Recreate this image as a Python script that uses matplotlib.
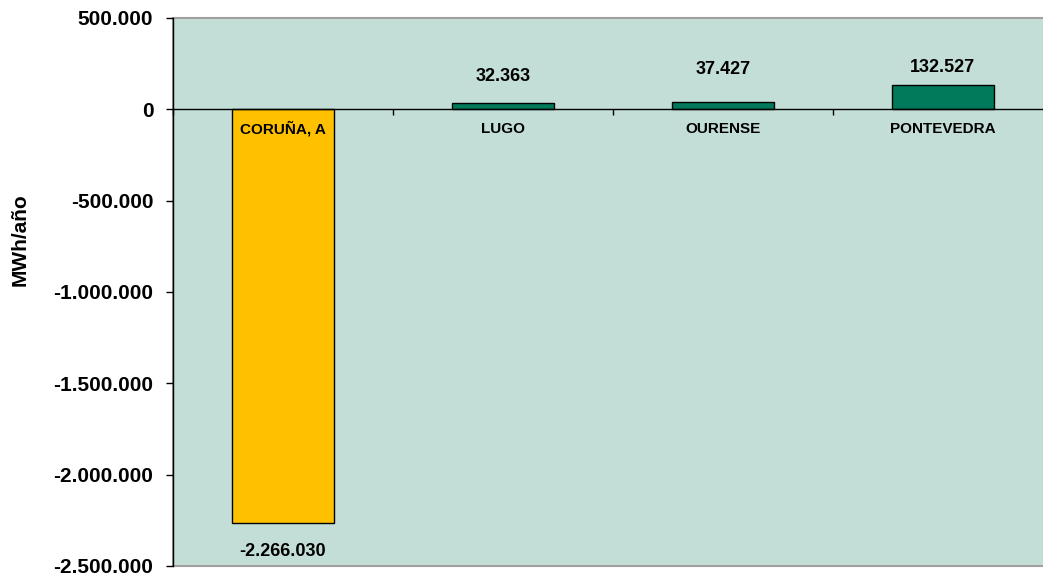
import numpy as np
import matplotlib.pyplot as plt
from matplotlib.patches import Rectangle
from matplotlib.ticker import FuncFormatter

provincias = ['CORUÑA, A', 'LUGO', 'OURENSE', 'PONTEVEDRA']
valores = [-2266030, 32363, 37427, 132527]
colores = ['#FFC000', '#007A5A', '#007A5A', '#007A5A']
# separación (en puntos) entre la barra y su etiqueta, como en el original
desfase = [20.5, 19.2, 24.0, 12.4]

plt.rcParams['font.family'] = ['Liberation Sans', 'DejaVu Sans']
plt.rcParams['font.weight'] = 'bold'


def miles(v, pos=None):
    s = f'{abs(int(round(v))):,}'.replace(',', '.')
    return '-' + s if v < 0 else s


fig = plt.figure(figsize=(10.43, 5.78), dpi=100)
# el área de trazado se sale por la derecha, como en la imagen original
ax = fig.add_axes([0.1656, 0.0208, 0.8437, 0.9481])
ax.set_facecolor('#C3DED6')

x = np.arange(len(provincias))
ax.bar(x, valores, width=0.464, color=colores, edgecolor='black', linewidth=1, zorder=3)

ax.set_xlim(-0.5, len(provincias) - 0.5)
ax.set_ylim(-2500000, 500000)
ax.set_yticks(np.arange(-2500000, 500001, 500000))
ax.yaxis.set_major_formatter(FuncFormatter(miles))
ax.tick_params(axis='y', direction='out', length=5, width=1, labelsize=15, pad=9)
for t in ax.get_yticklabels():
    t.set_fontweight('bold')

# eje de categorías en el cero
ax.spines['bottom'].set_position(('data', 0))
ax.spines['bottom'].set_linewidth(1)
ax.spines['bottom'].set_zorder(4)
ax.spines['left'].set_linewidth(1)
ax.spines['top'].set_visible(False)
ax.spines['right'].set_visible(False)
ax.set_xticks(x)
ax.set_xticklabels([])
ax.tick_params(axis='x', which='major', length=0)
ax.set_xticks(np.arange(-0.5, len(provincias), 1), minor=True)
ax.tick_params(axis='x', which='minor', direction='out', length=4, width=1)

# nombres de provincia bajo la línea del cero
for xi, nombre in zip(x, provincias):
    ax.annotate(nombre, (xi, 0), xytext=(0, -14), textcoords='offset points',
                ha='center', va='center', fontsize=11, fontweight='bold', zorder=6)

# borde gris del área de trazado
ax.add_patch(Rectangle((0, 0), 1, 1, transform=ax.transAxes, fill=False,
                       edgecolor='#A0A0A0', linewidth=1.5, zorder=1, clip_on=False))

for xi, v, d in zip(x, valores, desfase):
    dy = d if v >= 0 else -d
    ax.annotate(miles(v), (xi, v), xytext=(0, dy), textcoords='offset points',
                ha='center', va='center', fontsize=13, fontweight='bold')

fig.text(0.019, 0.586, 'MWh/año', rotation=90, ha='center', va='center',
         fontsize=15, fontweight='bold')

plt.savefig('out.png', dpi=100)
